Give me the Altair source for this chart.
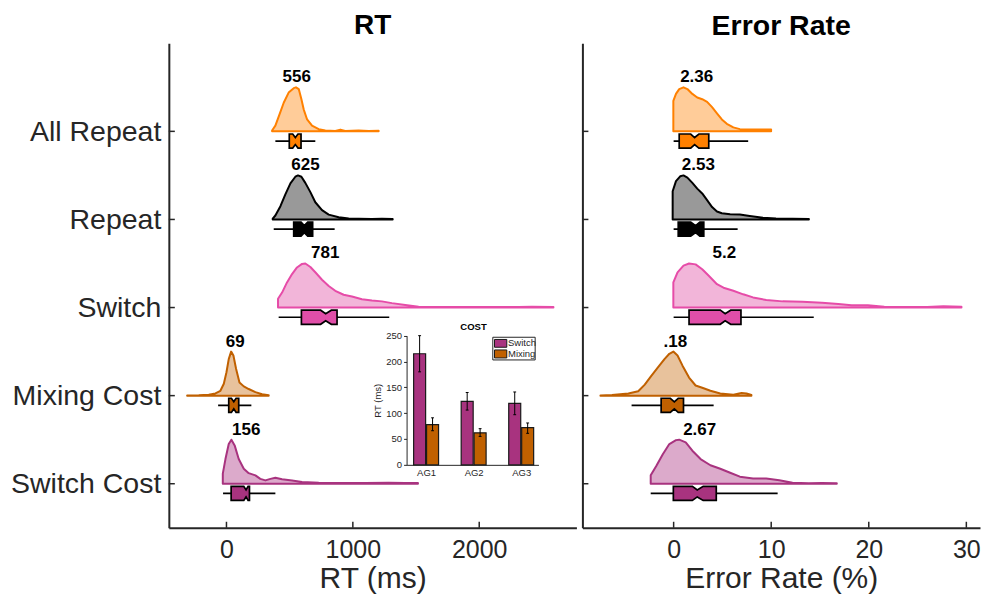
import json
import altair as alt
import pandas as pd

FONT = "Liberation Sans"
AXC = "#262626"

# ---------------- categories & styles ----------------
conds = ["All Repeat", "Repeat", "Switch", "Mixing Cost", "Switch Cost"]
cond_pos = [1, 2, 3, 4, 5]
line_colors = ["#ff8000", "#000000", "#e64ca8", "#c06000", "#a8337f"]
fill_colors = ["#ffcc99", "#999999", "#f2b5d9", "#e8c29c", "#dcaacb"]
box_colors = ["#ff8000", "#000000", "#e04ea8", "#c06000", "#a8337f"]

# ---------------- RT densities (value, relative density) ----------------
rt_all_repeat_x = [361, 387, 419, 453, 492, 532, 550, 572, 593, 611, 638, 677, 730, 782, 861, 901, 940, 1046, 1125, 1204]
rt_all_repeat_d = [0.02, 0.13, 0.38, 0.65, 0.88, 0.98, 1.0, 0.96, 0.73, 0.5, 0.27, 0.13, 0.05, 0.02, 0.01, 0.04, 0.01, 0.02, 0.01, 0.015]
rt_repeat_x = [366, 387, 427, 466, 506, 545, 566, 593, 624, 664, 703, 756, 809, 888, 967, 1046, 1151, 1230, 1315]
rt_repeat_d = [0.02, 0.09, 0.30, 0.57, 0.82, 0.97, 1.0, 0.97, 0.83, 0.62, 0.39, 0.21, 0.11, 0.05, 0.02, 0.015, 0.01, 0.015, 0.01]
rt_switch_x = [408, 440, 479, 519, 558, 598, 624, 664, 703, 756, 809, 861, 927, 993, 1072, 1151, 1230, 1309, 1415, 1520, 1626, 1836, 2100, 2311, 2416, 2587]
rt_switch_d = [0.20, 0.34, 0.57, 0.76, 0.91, 0.99, 1.0, 0.92, 0.80, 0.63, 0.49, 0.38, 0.29, 0.25, 0.19, 0.16, 0.14, 0.10, 0.06, 0.02, 0.015, 0.01, 0.01, 0.01, 0.02, 0.015]
rt_mixing_x = [-311, -219, -140, -87, -48, -21, 0, 18, 37, 55, 76, 103, 137, 176, 229, 282, 334]
rt_mixing_d = [0.005, 0.01, 0.02, 0.05, 0.11, 0.27, 0.53, 0.83, 1.0, 0.91, 0.61, 0.30, 0.21, 0.15, 0.08, 0.03, 0.01]
rt_swcost_x = [-29, -8, 18, 39, 66, 97, 137, 176, 229, 268, 308, 348, 387, 440, 519, 598, 730, 914, 1099, 1283, 1415, 1515]
rt_swcost_d = [0.23, 0.56, 0.90, 1.0, 0.86, 0.56, 0.34, 0.24, 0.19, 0.11, 0.075, 0.11, 0.135, 0.10, 0.075, 0.04, 0.02, 0.015, 0.015, 0.02, 0.015, 0.015]

# box stats: q1, notch low, median, notch high, q3, whisker low, whisker high
rt_q1 = [497, 532, 593, 18, 37]
rt_nlo = [524, 590, 745, 39, 137]
rt_med = [545, 616, 785, 58, 155]
rt_nhi = [566, 643, 830, 76, 171]
rt_q3 = [590, 682, 875, 97, 182]
rt_wlo = [387, 374, 413, -66, -27]
rt_whi = [703, 856, 1288, 197, 387]
rt_mean = [556, 625, 781, 69, 156]
rt_labels = ["556", "625", "781", "69", "156"]

# ---------------- Error-rate densities ----------------
er_all_repeat_x = [-0.03, 0.24, 0.57, 1.01, 1.41, 1.92, 2.42, 2.93, 3.43, 3.94, 4.44, 4.94, 5.45, 6.12, 6.79, 7.8, 8.81, 9.99]
er_all_repeat_d = [0.69, 0.85, 0.96, 1.0, 0.96, 0.85, 0.77, 0.73, 0.67, 0.55, 0.41, 0.27, 0.17, 0.09, 0.05, 0.04, 0.04, 0.04]
er_repeat_x = [-0.1, 0.24, 0.67, 1.01, 1.41, 1.92, 2.42, 2.93, 3.43, 3.94, 4.44, 4.94, 5.79, 6.79, 7.8, 9.15, 10.49, 12.18, 13.86]
er_repeat_d = [0.64, 0.87, 0.98, 1.0, 0.95, 0.83, 0.70, 0.59, 0.44, 0.28, 0.18, 0.14, 0.12, 0.11, 0.08, 0.04, 0.02, 0.015, 0.01]
er_switch_x = [-0.03, 0.4, 1.01, 1.58, 2.25, 2.93, 3.6, 4.44, 5.11, 6.12, 7.13, 8.14, 9.49, 11.17, 13.19, 15.2, 16.88, 18.23, 19.91, 21.59, 23.95, 25.97, 27.65, 29.5]
er_switch_d = [0.57, 0.80, 0.95, 1.0, 0.98, 0.87, 0.72, 0.53, 0.45, 0.38, 0.30, 0.23, 0.17, 0.14, 0.13, 0.11, 0.08, 0.05, 0.05, 0.02, 0.01, 0.015, 0.03, 0.02]
er_mixing_x = [-7.5, -6.32, -4.64, -3.63, -2.96, -2.29, -1.61, -0.94, -0.44, -0.03, 0.4, 0.91, 1.58, 2.25, 2.93, 3.77, 4.78, 6.12, 6.96, 7.47, 7.97]
er_mixing_d = [0.005, 0.015, 0.05, 0.1, 0.25, 0.45, 0.64, 0.83, 0.95, 1.0, 0.91, 0.68, 0.41, 0.23, 0.18, 0.11, 0.05, 0.02, 0.06, 0.05, 0.015]
er_swcost_x = [-2.35, -1.78, -1.11, -0.44, 0.24, 0.57, 1.24, 1.92, 2.76, 3.77, 4.78, 5.79, 6.79, 8.14, 9.49, 10.83, 12.18, 13.86, 15.2, 16.72]
er_swcost_d = [0.19, 0.40, 0.67, 0.90, 0.99, 1.0, 0.94, 0.75, 0.56, 0.42, 0.34, 0.25, 0.16, 0.12, 0.12, 0.08, 0.02, 0.01, 0.015, 0.01]

er_q1 = [0.57, 0.47, 1.58, -1.28, -0.03]
er_nlo = [1.75, 1.75, 4.78, -0.34, 1.92]
er_med = [2.15, 2.25, 5.28, 0.07, 2.42]
er_nhi = [2.59, 2.69, 5.85, 0.47, 3.03]
er_q3 = [3.6, 3.09, 6.9, 1.01, 4.37]
er_wlo = [0.0, 0.0, 0.0, -4.31, -2.35]
er_whi = [7.64, 6.56, 14.36, 4.1, 10.66]
er_mean = [2.36, 2.53, 5.2, 0.18, 2.67]
er_labels = ["2.36", "2.53", "5.2", ".18", "2.67"]

# ---------------- inset (COST) ----------------
inset_groups = ["AG1", "AG2", "AG3"]
inset_series = ["Switch", "Mixing"]
inset_colors = ["#a8337f", "#c06000"]
switch_mean = [215, 123, 119]
switch_lo = [180, 106, 97]
switch_hi = [250, 140, 141]
mixing_mean = [78, 62, 72]
mixing_lo = [66, 55, 61]
mixing_hi = [91, 70, 81]

rt_ticks = [0, 1000, 2000]
er_ticks = [0, 10, 20, 30]
inset_yticks = [0, 50, 100, 150, 200, 250]

W_L, W_R, H = 408, 398, 485
Y_DOM = [0, 5.5]

ylabel_expr = json.dumps(conds) + "[datum.value - 1]"


def dens_frame(xs_list, ds_list):
    rows = []
    for c, p, xs, ds in zip(conds, cond_pos, xs_list, ds_list):
        for v, d in zip(xs, ds):
            rows.append({"cond": c, "pos": p, "value": v, "d": d})
    return pd.DataFrame(rows)


def box_frame(q1, nlo, med, nhi, q3):
    rows = []
    for i, (c, p) in enumerate(zip(conds, cond_pos)):
        for v, k in [(q1[i], "e"), (nlo[i], "e"), (med[i], "n"), (nhi[i], "e"), (q3[i], "e")]:
            rows.append({"cond": c, "pos": p, "value": v, "kind": k})
    return pd.DataFrame(rows)


def panel(dens_df, box_df, stat_df, xdom, xticks, xtitle, show_labels):
    xs = alt.Scale(domain=xdom, nice=False, zero=False)
    ys = alt.Scale(domain=Y_DOM, nice=False, zero=False, reverse=True)
    fill_s = alt.Scale(domain=conds, range=fill_colors)
    stroke_s = alt.Scale(domain=conds, range=line_colors)

    x_axis = alt.Axis(
        values=xticks, format="d", ticks=False, domain=True, domainColor=AXC,
        domainWidth=2, grid=False, title=xtitle, labelFont=FONT, labelFontSize=25,
        labelColor=AXC, labelPadding=10, titleFont=FONT, titleFontSize=30,
        titleFontWeight="normal", titleColor=AXC, titlePadding=1)
    y_axis = alt.Axis(
        values=cond_pos, labelExpr=ylabel_expr, labels=show_labels, ticks=False,
        domain=True, domainColor=AXC, domainWidth=2, grid=False, title=None,
        labelFont=FONT, labelFontSize=28.5, labelColor=AXC, labelPadding=8)

    area = alt.Chart(dens_df).transform_calculate(
        top="datum.pos - 0.5 * datum.d"
    ).mark_area(orient="vertical", strokeWidth=2, strokeJoin="round").encode(
        x=alt.X("value:Q", scale=xs, axis=x_axis),
        y=alt.Y("top:Q", scale=ys, axis=y_axis, stack=False),
        y2="pos:Q",
        fill=alt.Fill("cond:N", scale=fill_s, legend=None),
        stroke=alt.Stroke("cond:N", scale=stroke_s, legend=None),
        detail="cond:N",
    )

    whisk = alt.Chart(stat_df).transform_calculate(
        yc="datum.pos + 0.11"
    ).mark_rule(color="#000000", strokeWidth=1.7).encode(
        x=alt.X("wlo:Q", scale=xs),
        x2="whi:Q",
        y=alt.Y("yc:Q", scale=ys),
    )

    boxes = []
    for i, c in enumerate(conds):
        b = alt.Chart(box_df[box_df["cond"] == c]).transform_calculate(
            top="datum.pos + (datum.kind == 'n' ? 0.07 : 0.03)",
            bot="datum.pos + (datum.kind == 'n' ? 0.15 : 0.19)",
        ).mark_area(orient="vertical", fill=box_colors[i], stroke="#000000",
                    strokeWidth=1.7, strokeJoin="miter").encode(
            x=alt.X("value:Q", scale=xs),
            y=alt.Y("top:Q", scale=ys, stack=False),
            y2="bot:Q",
        )
        boxes.append(b)

    labels = alt.Chart(stat_df).transform_calculate(
        ly="datum.pos - 0.5"
    ).mark_text(font=FONT, fontSize=17, fontWeight="bold", baseline="alphabetic", dy=-5, color="#000000").encode(
        x=alt.X("mean:Q", scale=xs),
        y=alt.Y("ly:Q", scale=ys),
        text="lab:N",
    )

    yticks = alt.Chart(pd.DataFrame({"pos": cond_pos})).mark_rule(color=AXC, strokeWidth=1.5).encode(
        y=alt.Y("pos:Q", scale=ys),
        x=alt.value(0),
        x2=alt.value(6),
    )

    xticks_l = alt.Chart(pd.DataFrame({"t": xticks})).mark_rule(color=AXC, strokeWidth=1.5).encode(
        x=alt.X("t:Q", scale=xs),
        y=alt.value(H),
        y2=alt.value(H - 6),
    )

    return alt.layer(area, whisk, *boxes, labels, yticks, xticks_l)


# ---------- left panel ----------
rt_dens = dens_frame([rt_all_repeat_x, rt_repeat_x, rt_switch_x, rt_mixing_x, rt_swcost_x],
                     [rt_all_repeat_d, rt_repeat_d, rt_switch_d, rt_mixing_d, rt_swcost_d])
rt_box = box_frame(rt_q1, rt_nlo, rt_med, rt_nhi, rt_q3)
rt_stat = pd.DataFrame({"cond": conds, "pos": cond_pos, "wlo": rt_wlo, "whi": rt_whi,
                        "mean": rt_mean, "lab": rt_labels})
left_main = panel(rt_dens, rt_box, rt_stat, [-456, 2769], rt_ticks, "RT (ms)", True)

# inset
inset_rows = []
for gi, g in enumerate(inset_groups):
    inset_rows.append({"g": gi + 1, "series": "Switch", "m": switch_mean[gi], "lo": switch_lo[gi], "hi": switch_hi[gi]})
    inset_rows.append({"g": gi + 1, "series": "Mixing", "m": mixing_mean[gi], "lo": mixing_lo[gi], "hi": mixing_hi[gi]})
inset_df = pd.DataFrame(inset_rows)

ix = alt.Scale(domain=[0.695, 3.258], range=[238, 370], nice=False, zero=False)
iy = alt.Scale(domain=[0, 250], range=[422, 292.7], nice=False, zero=False)
icol = alt.Scale(domain=inset_series, range=inset_colors)
group_expr = json.dumps(inset_groups) + "[datum.value - 1]"

ibase = alt.Chart(inset_df).transform_calculate(
    xb="datum.g + (datum.series == 'Switch' ? -0.136 : 0.136)",
    xl="datum.g + (datum.series == 'Switch' ? -0.136 : 0.136) - 0.03",
    xr="datum.g + (datum.series == 'Switch' ? -0.136 : 0.136) + 0.03",
)
ibars = ibase.mark_bar(width=12, stroke="#1a1a1a", strokeWidth=1.2).encode(
    x=alt.X("xb:Q", scale=ix, axis=alt.Axis(
        orient="bottom", offset=-63, values=[1, 2, 3], labelExpr=group_expr, ticks=False,
        domain=True, domainColor=AXC, domainWidth=1, grid=False, title=None,
        labelFont=FONT, labelFontSize=9.5, labelColor=AXC, labelPadding=3)),
    y=alt.Y("m:Q", scale=iy, stack=False, axis=alt.Axis(
        orient="left", offset=-238, values=inset_yticks, tickSize=3, tickColor=AXC,
        domain=True, domainColor=AXC, domainWidth=1, grid=False, title="RT (ms)",
        labelFont=FONT, labelFontSize=9.5, labelColor=AXC, labelPadding=2,
        titleFont=FONT, titleFontSize=9.5, titleFontWeight="normal", titleColor=AXC, titlePadding=3)),
    color=alt.Color("series:N", scale=icol, legend=None),
)
ierr = ibase.mark_rule(color="#000000", strokeWidth=1).encode(
    x=alt.X("xb:Q", scale=ix), y=alt.Y("lo:Q", scale=iy), y2="hi:Q")
icap_lo = ibase.mark_rule(color="#000000", strokeWidth=1).encode(
    x=alt.X("xl:Q", scale=ix), x2="xr:Q", y=alt.Y("lo:Q", scale=iy))
icap_hi = ibase.mark_rule(color="#000000", strokeWidth=1).encode(
    x=alt.X("xl:Q", scale=ix), x2="xr:Q", y=alt.Y("hi:Q", scale=iy))

ileg_df = pd.DataFrame({"series": inset_series})
ileg_frame = alt.Chart(ileg_df.head(1)).mark_rect(fill="#ffffff", stroke=AXC, strokeWidth=1).encode(
    x=alt.value(324.3), x2=alt.value(366.7), y=alt.value(294.3), y2=alt.value(317))
ileg_sw1 = alt.Chart(ileg_df.iloc[[0]]).mark_rect(stroke="#1a1a1a", strokeWidth=1).encode(
    x=alt.value(326), x2=alt.value(338.3), y=alt.value(296.5), y2=alt.value(304.3),
    color=alt.Color("series:N", scale=icol, legend=None))
ileg_sw2 = alt.Chart(ileg_df.iloc[[1]]).mark_rect(stroke="#1a1a1a", strokeWidth=1).encode(
    x=alt.value(326), x2=alt.value(338.3), y=alt.value(307), y2=alt.value(315),
    color=alt.Color("series:N", scale=icol, legend=None))
ileg_t1 = alt.Chart(ileg_df.iloc[[0]]).mark_text(font=FONT, fontSize=9.5, align="left", baseline="middle", color=AXC).encode(
    x=alt.value(339.5), y=alt.value(300.5), text="series:N")
ileg_t2 = alt.Chart(ileg_df.iloc[[1]]).mark_text(font=FONT, fontSize=9.5, align="left", baseline="middle", color=AXC).encode(
    x=alt.value(339.5), y=alt.value(311), text="series:N")
ititle = alt.Chart(pd.DataFrame({"t": ["COST"]})).mark_text(font=FONT, fontSize=9.5, fontWeight="bold", color="#000000").encode(
    x=alt.value(305), y=alt.value(284.5), text="t:N")

inset = alt.layer(ibars, ierr, icap_lo, icap_hi, ileg_frame, ileg_sw1, ileg_sw2, ileg_t1, ileg_t2, ititle)

left = alt.layer(left_main, inset).resolve_scale(x="independent", y="independent").properties(
    width=W_L, height=H,
    title=alt.TitleParams("RT", font=FONT, fontSize=28, fontWeight="bold", color="#000000", offset=3, anchor="middle"),
)

# ---------- right panel ----------
er_dens = dens_frame([er_all_repeat_x, er_repeat_x, er_switch_x, er_mixing_x, er_swcost_x],
                     [er_all_repeat_d, er_repeat_d, er_switch_d, er_mixing_d, er_swcost_d])
er_box = box_frame(er_q1, er_nlo, er_med, er_nhi, er_q3)
er_stat = pd.DataFrame({"cond": conds, "pos": cond_pos, "wlo": er_wlo, "whi": er_whi,
                        "mean": er_mean, "lab": er_labels})
right = panel(er_dens, er_box, er_stat, [-9.35, 31.4], er_ticks, "Error Rate (%)", False).properties(
    width=W_R, height=H,
    title=alt.TitleParams("Error Rate", font=FONT, fontSize=28.5, fontWeight="bold", color="#000000", offset=3, anchor="middle"),
)

chart = alt.hconcat(left, right, spacing=5).resolve_scale(
    x="independent", y="independent"
).properties(
    padding={"left": 2, "top": 3, "right": 0, "bottom": 0},
    background="#ffffff",
).configure_view(stroke=None)

chart.save("out.html", embed_options={"renderer": "svg", "actions": False})
